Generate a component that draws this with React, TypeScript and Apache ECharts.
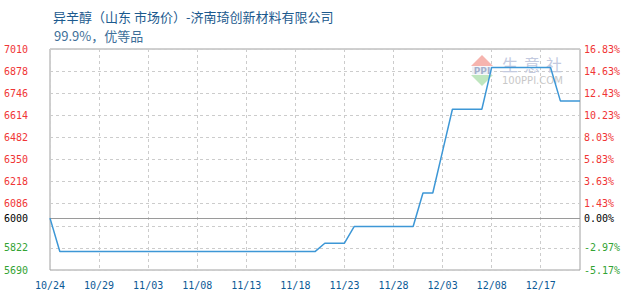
import React, { useEffect, useRef } from "react";
import * as echarts from "echarts";

// Daily quotes, 异辛醇 (山东 市场价)
const dates = [
  "10/24", "10/25", "10/26", "10/27", "10/28", "10/29", "10/30", "10/31",
  "11/01", "11/02", "11/03", "11/04", "11/05", "11/06", "11/07", "11/08",
  "11/09", "11/10", "11/11", "11/12", "11/13", "11/14", "11/15", "11/16",
  "11/17", "11/18", "11/19", "11/20", "11/21", "11/22", "11/23", "11/24",
  "11/25", "11/26", "11/27", "11/28", "11/29", "11/30", "12/01", "12/02",
  "12/03", "12/04", "12/05", "12/06", "12/07", "12/08", "12/09", "12/10",
  "12/13", "12/15", "12/17", "12/18", "12/19", "12/20", "12/21",
];

const prices = [
  6000, 5800, 5800, 5800, 5800, 5800, 5800, 5800,
  5800, 5800, 5800, 5800, 5800, 5800, 5800, 5800,
  5800, 5800, 5800, 5800, 5800, 5800, 5800, 5800,
  5800, 5800, 5800, 5800, 5850, 5850, 5850, 5950,
  5950, 5950, 5950, 5950, 5950, 5950, 6150, 6150,
  6400, 6650, 6650, 6650, 6650, 6900, 6900, 6900,
  6900, 6900, 6900, 6900, 6700, 6700, 6700,
];

// Dates that get a label and a vertical grid line
const tickDates = [
  "10/24", "10/29", "11/03", "11/08", "11/13", "11/18",
  "11/23", "11/28", "12/03", "12/08", "12/17",
];

const basePrice = 6000;
const yMin = 5690;
const yMax = 7010;
const yStep = 132;
const hiddenTick = 5954;

const RED = "#f03535";
const GREEN = "#33a333";
const MONO = "'DejaVu Sans Mono', monospace";
const CJK = "'Noto Sans CJK SC', sans-serif";

export default function App() {
  const ref = useRef<HTMLDivElement>(null);

  useEffect(() => {
    document.body.style.margin = "0";
    if (!ref.current) return;
    const chart = echarts.init(ref.current, null, { renderer: "svg" });

    const tickColor = (v: number) =>
      v > basePrice ? RED : v < basePrice ? GREEN : "#000";
    const isTick = (i: number) => tickDates.includes(dates[i]);

    chart.setOption({
      animation: false,
      backgroundColor: "#fff",
      grid: {
        left: 50,
        top: 49,
        width: 530,
        height: 221,
        show: true,
        borderColor: "#a0a0a0",
        borderWidth: 1,
        backgroundColor: "transparent",
      },
      xAxis: {
        type: "category",
        data: dates,
        boundaryGap: false,
        axisLine: { show: false },
        axisTick: { show: false },
        axisLabel: {
          interval: (i: number) => isTick(i),
          margin: 10,
          fontFamily: MONO,
          fontSize: 10,
          color: "#0d5a96",
        },
        splitLine: {
          show: true,
          interval: (i: number) => isTick(i),
          lineStyle: { color: "#cccccc", type: [3, 3], width: 1 },
        },
      },
      yAxis: [
        {
          type: "value",
          min: yMin,
          max: yMax,
          interval: yStep,
          axisLine: { show: false },
          axisTick: { show: false },
          splitLine: {
            show: true,
            lineStyle: { color: "#cccccc", type: [3, 3], width: 1 },
          },
          axisLabel: {
            margin: 22,
            fontFamily: MONO,
            fontSize: 10,
            color: (v: number) => tickColor(Math.round(v)),
            formatter: (v: number) =>
              Math.round(v) === hiddenTick ? "" : String(Math.round(v)),
          },
        },
        {
          type: "value",
          position: "right",
          min: yMin,
          max: yMax,
          interval: yStep,
          axisLine: { show: false },
          axisTick: { show: false },
          splitLine: { show: false },
          axisLabel: {
            margin: 4,
            fontFamily: MONO,
            fontSize: 10,
            color: (v: number) => tickColor(Math.round(v)),
            formatter: (v: number) => {
              const r = Math.round(v);
              if (r === hiddenTick) return "";
              return (((r - basePrice) / basePrice) * 100).toFixed(2) + "%";
            },
          },
        },
      ],
      title: [
        {
          text: "异辛醇（山东 市场价）-济南琦创新材料有限公司",
          left: 48,
          top: 5,
          textStyle: {
            fontFamily: CJK,
            fontSize: 13,
            fontWeight: "normal",
            color: "#1c5a8e",
          },
        },
        {
          text: "99.9%，优等品",
          left: 49,
          top: 24,
          textStyle: {
            fontFamily: CJK,
            fontSize: 13,
            fontWeight: "normal",
            color: "#3d6e98",
          },
        },
      ],
      graphic: [
        {
          type: "polygon",
          z: 1,
          shape: { points: [[482, 55], [471, 66], [493, 66]] },
          style: { fill: "#f6b4ae" },
        },
        {
          type: "rect",
          z: 1,
          shape: { x: 472, y: 66.5, width: 20, height: 8 },
          style: { fill: "#eef0f6" },
        },
        {
          type: "text",
          z: 1,
          x: 482,
          y: 70.5,
          style: {
            text: "PPI",
            fontSize: 9,
            fontWeight: "bold",
            fontFamily: "'DejaVu Sans', sans-serif",
            fill: "#a4b0cc",
            align: "center",
            verticalAlign: "middle",
          },
        },
        {
          type: "polygon",
          z: 1,
          shape: { points: [[471, 75], [493, 75], [482, 86]] },
          style: { fill: "#bfe6bf" },
        },
        ...["生", "意", "社"].map((ch, k) => ({
          type: "text",
          z: 1,
          x: 502 + k * 22,
          y: 64,
          style: {
            text: ch,
            fontSize: 16,
            fontFamily: CJK,
            fill: "#c3cadf",
            verticalAlign: "middle",
          },
        })),
        {
          type: "text",
          z: 1,
          x: 502,
          y: 80,
          style: {
            text: "100PPI.COM",
            fontSize: 10,
            fontFamily: "'DejaVu Sans', sans-serif",
            fill: "#c8c8c8",
            verticalAlign: "middle",
          },
        },
      ],
      series: [
        {
          type: "line",
          data: prices,
          symbol: "none",
          z: 3,
          lineStyle: { color: "#3d97d6", width: 1.5 },
          markLine: {
            silent: true,
            symbol: "none",
            z: 2,
            lineStyle: { color: "#9a9a9a", type: "solid", width: 1 },
            data: [
              {
                yAxis: basePrice,
                label: {
                  position: "start",
                  distance: 22,
                  formatter: String(basePrice),
                  color: "#000",
                  fontFamily: MONO,
                  fontSize: 10,
                },
              },
              {
                yAxis: basePrice,
                label: {
                  position: "end",
                  distance: 4,
                  formatter: "0.00%",
                  color: "#000",
                  fontFamily: MONO,
                  fontSize: 10,
                },
              },
            ],
          },
        },
      ],
    });

    return () => chart.dispose();
  }, []);

  return <div ref={ref} style={{ width: 630, height: 300 }} />;
}
